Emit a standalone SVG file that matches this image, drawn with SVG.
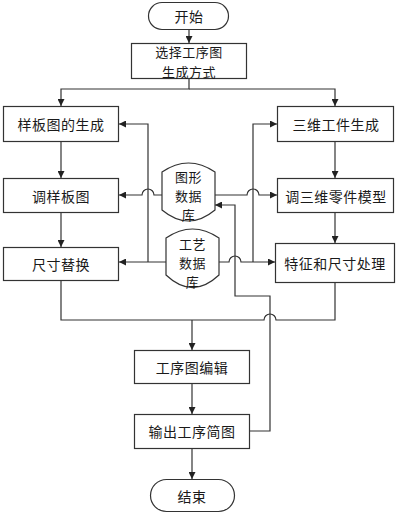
<svg xmlns="http://www.w3.org/2000/svg" width="400" height="514" viewBox="0 0 400 514">
<style>
.n{fill:#fff;stroke:#333;stroke-width:1.2}
.t{font-family:"Noto Sans CJK SC","Noto Sans",sans-serif;font-size:14px;fill:#1a1a1a;text-anchor:middle;dominant-baseline:central;letter-spacing:0.5px}
.d{font-size:13px}
.c{fill:none;stroke:#333;stroke-width:1.2}
.a{marker-end:url(#ah)}
</style>
<defs>
<marker id="ah" markerUnits="userSpaceOnUse" markerWidth="7" markerHeight="7" refX="7" refY="3.5" orient="auto">
<path d="M0,0 L7,3.5 L0,7 z" fill="#222"/>
</marker>
</defs>
<rect width="400" height="514" fill="#fff"/>
<g id="connectors">
<path class="c a" d="M189,29 V43"/>
<path class="c a" d="M189,79 V89 H61 V106"/>
<path class="c a" d="M189,89 H335 V106"/>
<path class="c a" d="M61,142 V178"/>
<path class="c a" d="M61,213 V247"/>
<path class="c a" d="M335,142 V178"/>
<path class="c a" d="M335,212 V243"/>
<path class="c a" d="M162,195 H154 A6,6 0 0 0 142,195 H119"/>
<path class="c a" d="M215,195 H247 A6,6 0 0 1 259,195 H277"/>
<path class="c a" d="M166,262 H119"/>
<path class="c a" d="M148,262 V124 H119"/>
<path class="c a" d="M219,262 H229 A6,6 0 0 1 241,262 H275"/>
<path class="c a" d="M253,262 V124 H277"/>
<path class="c a" d="M250,431 H270 V296 H235 V205 H215"/>
<path class="c" d="M61,280 V320 H264 A6,6 0 0 1 276,320 H335 V283"/>
<path class="c a" d="M192,320 V350"/>
<path class="c a" d="M192,383 V414"/>
<path class="c a" d="M192,448 V479"/>
</g>
<g id="start"><rect class="n" x="148.5" y="2.5" width="80" height="27" rx="13.5"/><text class="t" x="189" y="16">开始</text></g>
<g id="select"><rect class="n" x="131.5" y="43.5" width="115" height="35"/><text class="t d" x="189" y="51">选择工序图</text><text class="t d" x="189" y="71">生成方式</text></g>
<g id="template"><rect class="n" x="3.5" y="106.5" width="115" height="35"/><text class="t" x="61" y="124">样板图的生成</text></g>
<g id="part3d"><rect class="n" x="277.5" y="106.5" width="116" height="35"/><text class="t" x="336" y="124">三维工件生成</text></g>
<g id="adjtemplate"><rect class="n" x="3.5" y="178.5" width="115" height="34"/><text class="t" x="61" y="195.5">调样板图</text></g>
<g id="adj3d"><rect class="n" x="277.5" y="178.5" width="116" height="34"/><text class="t" x="336" y="195.5">调三维零件模型</text></g>
<g id="dimreplace"><rect class="n" x="3.5" y="247.5" width="115" height="33"/><text class="t" x="61" y="264">尺寸替换</text></g>
<g id="feature"><rect class="n" x="275.5" y="243.5" width="119" height="39"/><text class="t" x="335" y="263">特征和尺寸处理</text></g>
<g id="graphdb"><path class="n" d="M162,172 Q188.5,154 215,172 L215,210 Q188.5,232 162,210 Z"/><text class="t d" x="188.5" y="176">图形</text><text class="t d" x="188.5" y="195">数据</text><text class="t d" x="188.5" y="214">库</text></g>
<g id="procdb"><path class="n" d="M166,238 Q192.5,220 219,238 L219,275 Q192.5,300 166,275 Z"/><text class="t d" x="192.5" y="243">工艺</text><text class="t d" x="192.5" y="262">数据</text><text class="t d" x="192.5" y="281">库</text></g>
<g id="edit"><rect class="n" x="134.5" y="350.5" width="115" height="33"/><text class="t" x="192" y="367">工序图编辑</text></g>
<g id="output"><rect class="n" x="134.5" y="414.5" width="115" height="34"/><text class="t" x="192" y="431">输出工序简图</text></g>
<g id="end"><rect class="n" x="150.5" y="479.5" width="84" height="32" rx="16"/><text class="t" x="192" y="495.5">结束</text></g>
</svg>
